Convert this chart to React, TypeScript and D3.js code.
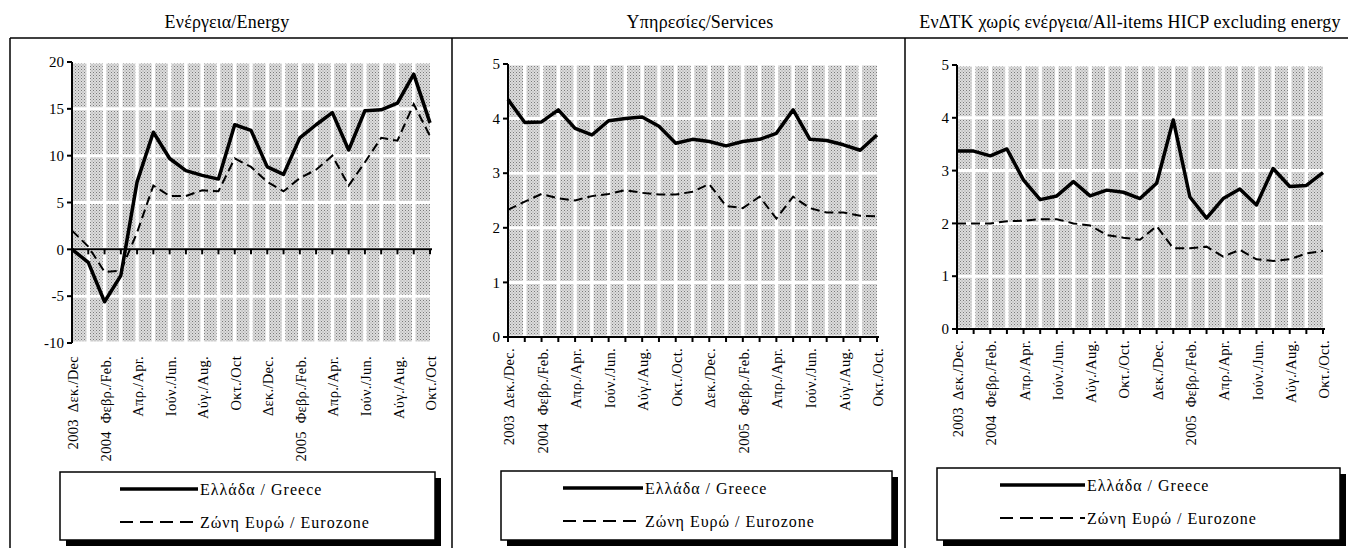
import * as d3 from "d3";

// Dec 2003 .. Oct 2005, monthly, annual % change
const energyGreece = [0, -1.4, -5.6, -2.8, 7.2, 12.5, 9.7, 8.4, 7.9, 7.5, 13.3, 12.7, 8.8, 8.0, 11.9, 13.3, 14.6, 10.6, 14.8, 14.9, 15.6, 18.7, 13.5];
const energyEuro = [2.0, 0.3, -2.4, -2.3, 1.8, 6.8, 5.7, 5.7, 6.3, 6.2, 9.7, 8.8, 7.2, 6.2, 7.6, 8.5, 10.0, 6.8, 9.3, 11.9, 11.6, 15.5, 12.1];

const servicesGreece = [4.35, 3.93, 3.94, 4.16, 3.82, 3.7, 3.96, 4.0, 4.03, 3.86, 3.55, 3.62, 3.58, 3.5, 3.58, 3.62, 3.73, 4.16, 3.62, 3.6, 3.52, 3.42, 3.7];
const servicesEuro = [2.33, 2.48, 2.62, 2.54, 2.5, 2.58, 2.62, 2.69, 2.64, 2.61, 2.61, 2.66, 2.8, 2.4, 2.36, 2.57, 2.17, 2.57, 2.36, 2.28, 2.28, 2.22, 2.21];

const coreGreece = [3.37, 3.37, 3.28, 3.41, 2.82, 2.45, 2.52, 2.79, 2.52, 2.63, 2.59, 2.47, 2.76, 3.96, 2.5, 2.1, 2.47, 2.65, 2.35, 3.04, 2.7, 2.72, 2.96];
const coreEuro = [2.0, 2.0, 2.0, 2.04, 2.05, 2.08, 2.08, 2.0, 1.96, 1.78, 1.73, 1.69, 1.95, 1.53, 1.53, 1.56, 1.37, 1.5, 1.32, 1.29, 1.32, 1.43, 1.48];

const labelsEnergy = ["2003  Δεκ./Dec", "2004  Φεβρ./Feb.", "Απρ./Apr.", "Ιούν./Jun.", "Αύγ./Aug.", "Οκτ./Oct", "Δεκ./Dec.", "2005  Φεβρ./Feb.", "Απρ./Apr.", "Ιούν./Jun.", "Αύγ./Aug.", "Οκτ./Oct"];
const labelsServices = ["2003  Δεκ./Dec.", "2004  Φεβρ./Feb.", "Απρ./Apr.", "Ιούν./Jun.", "Αύγ./Aug.", "Οκτ./Oct.", "Δεκ./Dec.", "2005  Φεβρ./Feb.", "Απρ./Apr.", "Ιούν./Jun.", "Αύγ./Aug.", "Οκτ./Oct."];
const labelsCore = ["2003  Δεκ./Dec.", "2004  Φεβρ./Feb.", "Απρ./Apr.", "Ιούν./Jun.", "Αύγ./Aug.", "Οκτ./Oct.", "Δεκ./Dec.", "2005  Φεβρ./Feb.", "Απρ./Apr.", "Ιούν./Jun.", "Αύγ./Aug.", "Οκτ./Oct."];

const legendNames = ["Ελλάδα / Greece", "Ζώνη Ευρώ / Eurozone"];

const FONT = '"Liberation Serif", "DejaVu Serif", serif';

type Cfg = {
  title: string;
  titleX: number;
  left: number;
  x0: number;
  x1: number;
  domain: [number, number];
  step: number;
  yPix: [number, number];
  labelTop: number;
  legend: { x: number; y: number; w: number; h: number; lx1: number; lx2: number };
};

function Panel({ cfg, greece, euro, labels }: { cfg: Cfg; greece: number[]; euro: number[]; labels: string[] }) {
  const n = greece.length;
  const x = d3.scaleLinear([0, n - 1], [cfg.x0, cfg.x1]);
  const y = d3.scaleLinear(cfg.domain, cfg.yPix);
  const ticks = d3.range(cfg.domain[0], cfg.domain[1] + 0.001, cfg.step);
  const line = d3.line<number>((d, i) => x(i), (d) => y(d));
  const yTop = y(cfg.domain[1]);
  const yBot = y(cfg.domain[0]);
  const y0 = y(0);
  const lg = cfg.legend;

  return (
    <g>
      <text x={cfg.titleX} y={28} textAnchor="middle" fontSize={18} letterSpacing={0.2}>
        {cfg.title}
      </text>
      <line x1={cfg.left} x2={cfg.left} y1={38} y2={548} stroke="#000" strokeWidth={1.5} />

      {/* stippled plot area with white grid */}
      <rect x={cfg.x0} y={yTop} width={cfg.x1 - cfg.x0} height={yBot - yTop} fill="url(#stip)" />
      {d3.range(1, n - 1).map((i) => (
        <line key={"v" + i} x1={x(i)} x2={x(i)} y1={yTop} y2={yBot} stroke="#fff" strokeWidth={3.5} />
      ))}
      {ticks.map((t) => (
        <line key={"h" + t} x1={cfg.x0} x2={cfg.x1} y1={y(t)} y2={y(t)} stroke="#fff" strokeWidth={3} />
      ))}

      {/* y axis */}
      <line x1={cfg.x0} x2={cfg.x0} y1={yTop} y2={yBot} stroke="#000" strokeWidth={2} />
      {ticks.map((t) => (
        <g key={"yt" + t}>
          <line x1={cfg.x0 - 5} x2={cfg.x0} y1={y(t)} y2={y(t)} stroke="#000" strokeWidth={2} />
          <text x={cfg.x0 - 8} y={y(t)} dy="0.35em" textAnchor="end" fontSize={15}>
            {t}
          </text>
        </g>
      ))}

      {/* x axis */}
      <line x1={cfg.x0} x2={cfg.x1 + 2} y1={y0} y2={y0} stroke="#000" strokeWidth={2} />
      {d3.range(0, n).map((i) => (
        <line key={"xt" + i} x1={x(i)} x2={x(i)} y1={y0} y2={y0 + 5} stroke="#000" strokeWidth={2} />
      ))}
      {labels.map((l, k) => (
        <text
          key={"xl" + k}
          transform={`translate(${x(k * 2) + 1},${cfg.labelTop}) rotate(-90)`}
          dy="0.35em"
          textAnchor="end"
          fontSize={14.5}
          letterSpacing={0.3}
          style={{ whiteSpace: "pre" }}
        >
          {l}
        </text>
      ))}

      {/* series */}
      <path d={line(euro)!} fill="none" stroke="#000" strokeWidth={2} strokeDasharray="9,5" />
      <path d={line(greece)!} fill="none" stroke="#000" strokeWidth={3.5} strokeLinejoin="round" />

      {/* legend */}
      <rect x={lg.x + 6} y={lg.y + 6} width={lg.w} height={lg.h} fill="#000" />
      <rect x={lg.x} y={lg.y} width={lg.w} height={lg.h} fill="#fff" stroke="#000" strokeWidth={1.5} />
      <line x1={lg.lx1} x2={lg.lx2} y1={lg.y + 17} y2={lg.y + 17} stroke="#000" strokeWidth={3.5} />
      <line x1={lg.lx1} x2={lg.lx2} y1={lg.y + 50} y2={lg.y + 50} stroke="#000" strokeWidth={2} strokeDasharray="13,7" />
      {legendNames.map((nm, i) => (
        <text key={nm} x={lg.lx2 + 2} y={lg.y + 17 + i * 33} dy="0.35em" fontSize={16} letterSpacing={1}>
          {nm}
        </text>
      ))}
    </g>
  );
}

const panels: Cfg[] = [
  {
    title: "Ενέργεια/Energy",
    titleX: 227,
    left: 10,
    x0: 72,
    x1: 430,
    domain: [-10, 20],
    step: 5,
    yPix: [343, 62],
    labelTop: 356,
    legend: { x: 60, y: 472, w: 375, h: 68, lx1: 120, lx2: 198 },
  },
  {
    title: "Υπηρεσίες/Services",
    titleX: 700,
    left: 452,
    x0: 508,
    x1: 877,
    domain: [0, 5],
    step: 1,
    yPix: [337, 64],
    labelTop: 348,
    legend: { x: 501, y: 471, w: 391, h: 69, lx1: 563, lx2: 643 },
  },
  {
    title: "ΕνΔΤΚ χωρίς ενέργεια/All-items HICP excluding energy",
    titleX: 1130,
    left: 905,
    x0: 957,
    x1: 1323,
    domain: [0, 5],
    step: 1,
    yPix: [329, 65],
    labelTop: 340,
    legend: { x: 937, y: 468, w: 403, h: 72, lx1: 1000, lx2: 1085 },
  },
];

export default function App() {
  return (
    <svg
      width={1348}
      height={548}
      style={{ position: "absolute", left: 0, top: 0, background: "#fff", fontFamily: FONT }}
    >
      <defs>
        <pattern id="stip" width={3} height={3} patternUnits="userSpaceOnUse">
          <rect width={3} height={3} fill="#dcdcdc" />
          <rect x={0} y={0} width={1} height={1} fill="#7a7a7a" />
          <rect x={1.5} y={1.5} width={1} height={1} fill="#9a9a9a" />
        </pattern>
      </defs>
      <line x1={10} x2={1348} y1={38} y2={38} stroke="#000" strokeWidth={1.5} />
      <Panel cfg={panels[0]} greece={energyGreece} euro={energyEuro} labels={labelsEnergy} />
      <Panel cfg={panels[1]} greece={servicesGreece} euro={servicesEuro} labels={labelsServices} />
      <Panel cfg={panels[2]} greece={coreGreece} euro={coreEuro} labels={labelsCore} />
    </svg>
  );
}
